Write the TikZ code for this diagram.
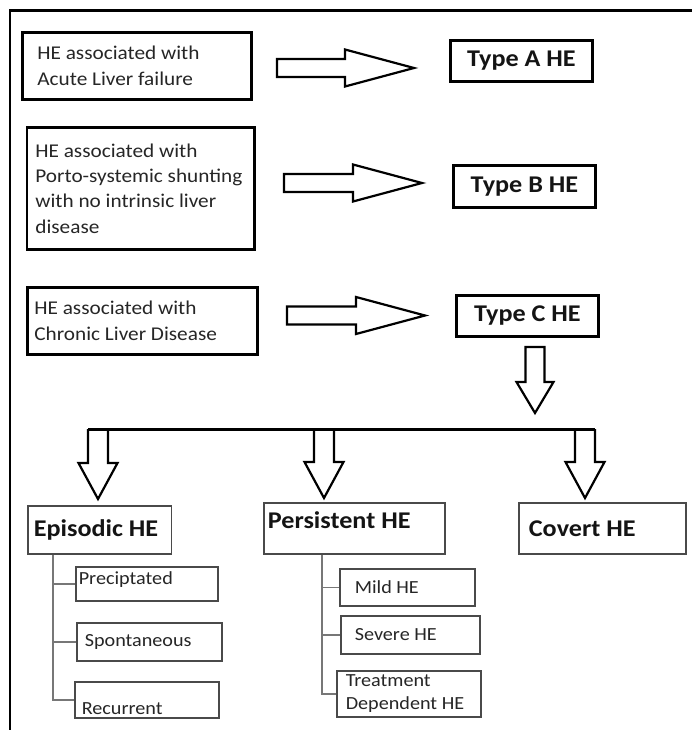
\documentclass[tikz,border=0pt]{standalone}
\usepackage{fontspec}
\setmainfont{Carlito}[FakeStretch=1.09]
\usetikzlibrary{calc}
\definecolor{txt}{HTML}{262626}
\definecolor{ttl}{HTML}{141414}
\definecolor{gbox}{HTML}{4A4A4A}
\definecolor{gline}{HTML}{777777}
\newcommand\hebody{\fontsize{19.5}{25.3}\selectfont}
\newcommand\hetitle{\fontsize{24}{28}\selectfont\bfseries}
\newcommand\hesmall{\fontsize{18.5}{23}\selectfont}
\newcommand\hecell[5]{\parbox[c][#2][#3]{#1}{\raggedright\leftskip=#4\relax #5}}
% right block arrow: tail centre #1, tip #2
\newcommand\hearrowR[2]{\draw[blk] let \p1=(#1),\p2=(#2) in
  (\x1,\y2+9pt) -- (\x2-69pt,\y2+9pt) -- (\x2-69pt,\y2+18.5pt) -- (\x2,\y2)
  -- (\x2-69pt,\y2-18.5pt) -- (\x2-69pt,\y2-9pt) -- (\x1,\y2-9pt) -- cycle;}
% closed down block arrow: top centre #1, tip #2
\newcommand\hearrowD[2]{\draw[blk] let \p1=(#1),\p2=(#2) in
  (\x2-9.5pt,\y1) -- (\x2-9.5pt,\y2+31pt) -- (\x2-18.5pt,\y2+31pt) -- (\x2,\y2)
  -- (\x2+18.5pt,\y2+31pt) -- (\x2+9.5pt,\y2+31pt) -- (\x2+9.5pt,\y1) -- cycle;}
% open-top down block arrow hanging from the bar
\newcommand\hearrowDo[2]{\draw[blk] let \p1=(#1),\p2=(#2) in
  (\x2-10pt,\y1) -- (\x2-10pt,\y2+36pt) -- (\x2-19.5pt,\y2+36pt) -- (\x2,\y2)
  -- (\x2+19.5pt,\y2+36pt) -- (\x2+10pt,\y2+36pt) -- (\x2+10pt,\y1);}
\tikzset{
  topbox/.style={draw=black, line width=2.8pt, inner sep=0pt, anchor=north west, text=txt, font=\hebody},
  typebox/.style={draw=black, line width=2.8pt, inner sep=0pt, anchor=north west, text=ttl, font=\hetitle},
  subbox/.style={draw=gbox, line width=1.8pt, inner sep=0pt, anchor=north west, text=ttl, font=\hetitle},
  leafbox/.style={draw=gbox, line width=1.6pt, inner sep=0pt, anchor=north west, text=txt, font=\hesmall},
  blk/.style={draw=black, line width=2.2pt, line join=miter},
  tree/.style={draw=gline, line width=1.4pt},
  barline/.style={draw=black, line width=3pt},
  frameline/.style={draw=black, line width=2.2pt}
}
\begin{document}
\begin{tikzpicture}[x=1pt,y=-1pt]
\useasboundingbox (0,0) rectangle (691,730);
\fill[white] (0,0) rectangle (691,730);
\draw[frameline] (10,731) -- (10,10.5) -- (692,10.5);

% top boxes
\node[topbox] (b1) at (21,31) {\hecell{229pt}{67pt}{c}{15pt}{HE associated with\\Acute Liver failure}};
\node[topbox] (b2) at (25.5,126) {\hecell{227.5pt}{122pt}{c}{8.5pt}{HE associated with\\Porto-systemic shunting\\with no intrinsic liver\\disease}};
\node[topbox] (b3) at (26,286) {\hecell{230pt}{67pt}{c}{7pt}{HE associated with\\Chronic Liver Disease}};

\node[typebox, minimum width=142pt, minimum height=41pt] (ta) at (449,39) {Type A HE};
\node[typebox, minimum width=142pt, minimum height=42pt] (tb) at (452,164) {Type B HE};
\node[typebox, minimum width=142pt, minimum height=41pt] (tc) at (455,294) {Type C HE};

% horizontal block arrows
\coordinate (a1s) at (277,68);  \coordinate (a1t) at (414,68);
\coordinate (a2s) at (284,183); \coordinate (a2t) at (422,183);
\coordinate (a3s) at (287,315.5); \coordinate (a3t) at (425,315.5);
\hearrowR{a1s}{a1t}
\hearrowR{a2s}{a2t}
\hearrowR{a3s}{a3t}

% down arrow from Type C
\coordinate (dct) at (535,347); \coordinate (dcp) at (535,413);
\hearrowD{dct}{dcp}

% bar and three arrows
\coordinate (bl) at (88,429); \coordinate (br) at (595,429);
\coordinate (d1t) at (98,429);  \coordinate (d1p) at (98,499);
\coordinate (d2t) at (324,429); \coordinate (d2p) at (324,498);
\coordinate (d3t) at (585,429); \coordinate (d3p) at (585,498);
\hearrowDo{d1t}{d1p}
\hearrowDo{d2t}{d2p}
\hearrowDo{d3t}{d3p}
\draw[barline] (bl) -- (br);

% second level
\node[subbox] (ep) at (27,505) {\hecell{143.5pt}{48pt}{c}{6pt}{Episodic HE}};
\node[subbox] (pe) at (263,502) {\hecell{181pt}{51pt}{t}{4pt}{\vspace*{9pt}Persistent HE}};
\node[subbox] (co) at (518,502) {\hecell{167pt}{51pt}{c}{10pt}{Covert HE}};

% leaves
\node[leafbox] (pr) at (75,566) {\hecell{142pt}{34pt}{t}{3pt}{\vspace*{5pt}Preciptated}};
\node[leafbox] (sp) at (76,622) {\hecell{145pt}{38pt}{c}{8pt}{Spontaneous}};
\node[leafbox] (re) at (74,681) {\hecell{144pt}{36pt}{b}{7pt}{Recurrent\par\vspace*{3.5pt}}};
\node[leafbox] (mi) at (339,568) {\hecell{135pt}{37pt}{c}{15pt}{Mild HE}};
\node[leafbox] (se) at (340,615) {\hecell{139pt}{38pt}{c}{14pt}{Severe HE}};
\node[leafbox] (tr) at (336,670) {\hecell{144pt}{46pt}{c}{9pt}{Treatment\\Dependent HE}};

% tree connectors
\draw[tree] ([xshift=26pt]ep.south west) |- (re.west);
\draw[tree] ([xshift=26pt]ep.south west) |- (pr.west);
\draw[tree] ([xshift=26pt]ep.south west) |- (sp.west);
\draw[tree] ([xshift=59pt]pe.south west) |- (tr.west);
\draw[tree] ([xshift=59pt]pe.south west) |- (mi.west);
\draw[tree] ([xshift=59pt]pe.south west) |- (se.west);
\end{tikzpicture}
\end{document}
